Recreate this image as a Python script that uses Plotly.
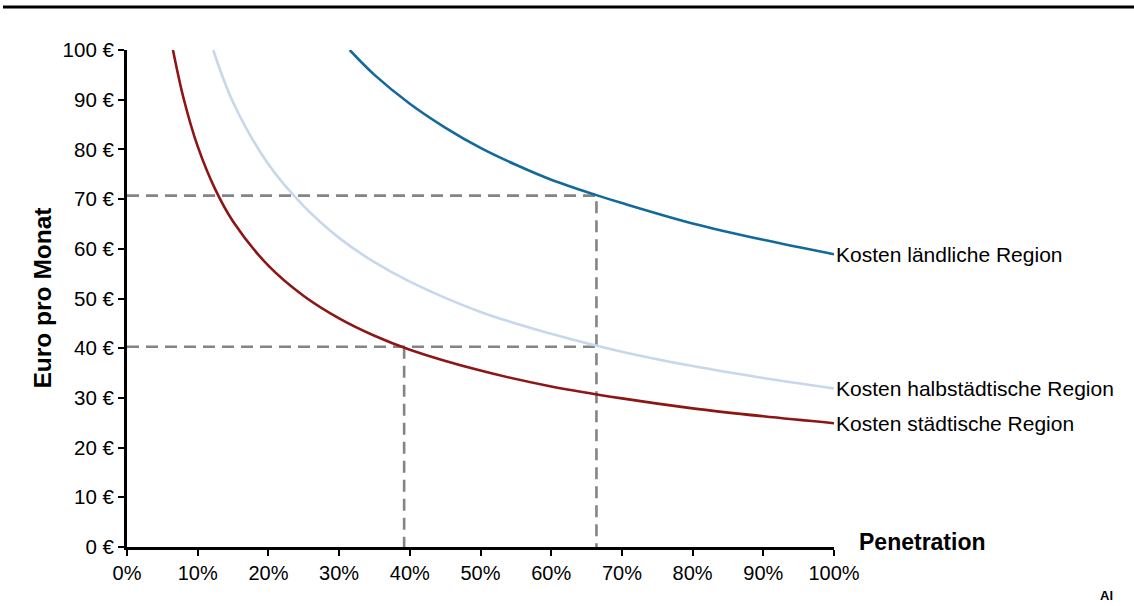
import plotly.graph_objects as go

# Penetration (%) and cost (Euro per month)
pen_staedtisch = [6.5, 8, 10, 12.5, 15, 20, 25, 30, 35, 40, 50, 60, 70, 80, 90, 100]
kosten_staedtisch = [100, 90.3, 80.6, 71.9, 65.5, 56.6, 50.5, 46.0, 42.5, 39.7, 35.5, 32.3, 29.9, 27.9, 26.3, 24.9]

pen_halbstaedtisch = [12.2, 15, 20, 25, 30, 35, 40, 50, 60, 70, 80, 90, 100]
kosten_halbstaedtisch = [100, 89.5, 77.0, 68.6, 62.2, 57.3, 53.4, 47.3, 42.9, 39.3, 36.4, 34.0, 31.9]

pen_laendlich = [31.5, 35, 40, 45, 50, 55, 60, 66.4, 70, 80, 90, 100]
kosten_laendlich = [100, 95.0, 89.2, 84.4, 80.3, 76.9, 73.9, 70.8, 69.2, 65.1, 61.8, 58.9]

serien_namen = ["Kosten ländliche Region", "Kosten halbstädtische Region", "Kosten städtische Region"]

# Reference (dashed) lines
ref_hoch_x = [0, 66.4, 66.4]
ref_hoch_y = [70.7, 70.7, 0]
ref_mittel_x = [0, 66.4]
ref_mittel_y = [40.3, 40.3]
ref_senk_x = [39.2, 39.2]
ref_senk_y = [40.3, 0]

x_ticks = [0, 10, 20, 30, 40, 50, 60, 70, 80, 90, 100]
x_ticklabels = [f"{v}%" for v in x_ticks]
y_ticks = [0, 10, 20, 30, 40, 50, 60, 70, 80, 90, 100]
y_ticklabels = [f"{v} €" for v in y_ticks]

FONT = "Liberation Sans, Arial, sans-serif"
DASH = "#848484"

W, H = 1134, 606
L, R, T, B = 127, 300, 50, 59.3
pw, ph = W - L - R, H - T - B


def px_x(p):
    return (p - L) / pw


def px_y(p):
    return (H - B - p) / ph


fig = go.Figure()

for xs, ys in [(ref_hoch_x, ref_hoch_y), (ref_mittel_x, ref_mittel_y), (ref_senk_x, ref_senk_y)]:
    fig.add_trace(go.Scatter(x=xs, y=ys, mode="lines",
                             line=dict(color=DASH, width=2.6, dash="12px,7px"),
                             hoverinfo="skip", showlegend=False))

series = [
    (pen_laendlich, kosten_laendlich, "#13699A", serien_namen[0]),
    (pen_halbstaedtisch, kosten_halbstaedtisch, "#C7D7EC", serien_namen[1]),
    (pen_staedtisch, kosten_staedtisch, "#8E1515", serien_namen[2]),
]
for xs, ys, col, name in series:
    fig.add_trace(go.Scatter(x=xs, y=ys, mode="lines", name=name,
                             line=dict(color=col, width=2.6, shape="spline", smoothing=1.0),
                             showlegend=False))
    fig.add_annotation(x=xs[-1], y=ys[-1], xref="x", yref="y", text=name,
                       showarrow=False, xanchor="left", yanchor="middle", xshift=0,
                       font=dict(family=FONT, size=21, color="black"))

fig.add_annotation(x=px_x(857), y=px_y(542), xref="paper", yref="paper", text="<b>Penetration</b>",
                   showarrow=False, xanchor="left", yanchor="middle",
                   font=dict(family=FONT, size=23, color="black"))

fig.add_annotation(x=px_x(42), y=0.5, xref="paper", yref="paper", text="<b>Euro pro Monat</b>",
                   showarrow=False, textangle=-90, xanchor="center", yanchor="middle",
                   font=dict(family=FONT, size=24.5, color="black"))

fig.add_annotation(x=px_x(1098), y=px_y(605), xref="paper", yref="paper", text="<b>Al</b>",
                   showarrow=False, xanchor="left", yanchor="bottom",
                   font=dict(family=FONT, size=13, color="black"))

fig.add_shape(type="line", xref="paper", yref="paper",
              x0=px_x(3), x1=px_x(1134), y0=px_y(7), y1=px_y(7),
              line=dict(color="black", width=3))

fig.update_layout(
    width=W, height=H,
    margin=dict(l=L, r=R, t=T, b=B, pad=0),
    paper_bgcolor="white", plot_bgcolor="white",
    font=dict(family=FONT, size=20, color="black"),
    xaxis=dict(range=[0, 100], tickvals=x_ticks, ticktext=x_ticklabels,
               showgrid=False, zeroline=False, showline=True, linecolor="black", linewidth=3,
               ticks="outside", ticklen=6, tickwidth=2, tickcolor="black",
               tickfont=dict(family=FONT, size=20)),
    yaxis=dict(range=[0, 100], tickvals=y_ticks, ticktext=y_ticklabels,
               showgrid=False, zeroline=False, showline=True, linecolor="black", linewidth=3,
               ticks="outside", ticklen=6, tickwidth=2, tickcolor="black",
               tickfont=dict(family=FONT, size=20.5)),
)

fig.write_html("out.html", config={"displayModeBar": False},
               post_script="document.body.style.margin='0';document.body.style.overflow='hidden';")
